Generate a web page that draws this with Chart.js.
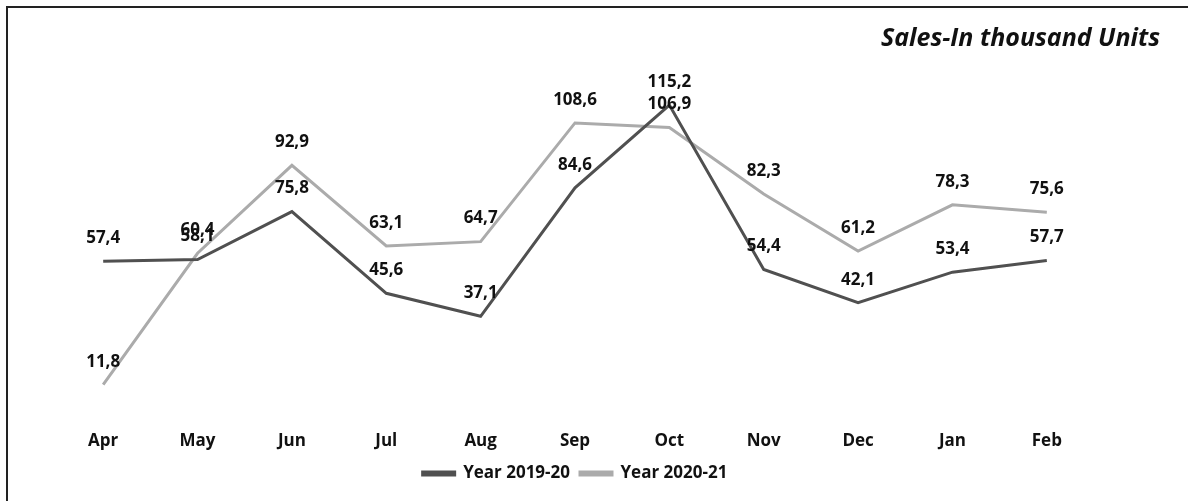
<!DOCTYPE html>
<html>
<head>
<meta charset="utf-8">
<script src="https://cdn.jsdelivr.net/npm/chart.js@4/dist/chart.umd.min.js"></script>
<style>
  html, body { margin: 0; padding: 0; background: #fff; }
  #wrap { position: relative; width: 1188px; height: 501px; overflow: hidden; }
  #frame { position: absolute; left: 6px; top: 6px; width: 1200px; height: 520px; border: 2px solid #222; box-sizing: border-box; }
  canvas { position: absolute; left: 0; top: 0; }
</style>
</head>
<body>
<div id="wrap">
  <div id="frame"></div>
  <canvas id="chart" width="1188" height="501"></canvas>
</div>
<script>
const months = ['Apr', 'May', 'Jun', 'Jul', 'Aug', 'Sep', 'Oct', 'Nov', 'Dec', 'Jan', 'Feb'];
const sales1920 = [57.4, 58.1, 75.8, 45.6, 37.1, 84.6, 115.2, 54.4, 42.1, 53.4, 57.7];
const sales2021 = [11.8, 60.4, 92.9, 63.1, 64.7, 108.6, 106.9, 82.3, 61.2, 78.3, 75.6];
const seriesNames = ['Year 2019-20', 'Year 2020-21'];
const titleText = 'Sales-In thousand Units';

const fontFamily = '"Open Sans", "Noto Sans", sans-serif';

// value labels above each point, comma decimal
const valueLabels = {
  id: 'valueLabels',
  afterDatasetsDraw(chart){
    const ctx = chart.ctx;
    ctx.save();
    ctx.font = 'bold 17px ' + fontFamily;
    ctx.fillStyle = '#111';
    ctx.textAlign = 'center';
    ctx.textBaseline = 'middle';
    chart.data.datasets.forEach((ds, i) => {
      chart.getDatasetMeta(i).data.forEach((pt, j) => {
        const txt = ds.data[j].toFixed(1).replace('.', ',');
        ctx.fillText(txt, pt.x, pt.y - 23);
      });
    });
    ctx.restore();
  }
};

const cornerTitle = {
  id: 'cornerTitle',
  afterDraw(chart){
    const ctx = chart.ctx;
    ctx.save();
    ctx.font = 'italic bold 25px ' + fontFamily;
    ctx.fillStyle = '#111';
    ctx.textAlign = 'right';
    ctx.textBaseline = 'middle';
    ctx.fillText(titleText, 1160, 39);
    ctx.restore();
  }
};

new Chart(document.getElementById('chart'), {
  type: 'line',
  data: {
    labels: months,
    datasets: [
      { label: seriesNames[0], data: sales1920, borderColor: '#505050', backgroundColor: '#505050',
        borderWidth: 3, pointRadius: 0, tension: 0 },
      { label: seriesNames[1], data: sales2021, borderColor: '#ababab', backgroundColor: '#ababab',
        borderWidth: 3, pointRadius: 0, tension: 0 }
    ]
  },
  options: {
    responsive: false,
    animation: false,
    layout: { padding: { left: 56, right: 94, top: 38, bottom: 9 } },
    scales: {
      x: {
        offset: true,
        grid: { display: false },
        border: { display: false },
        ticks: { color: '#111', font: { family: fontFamily, size: 17, weight: 'bold' }, padding: 6 },
        afterFit(scale){ scale.height -= 2; }
      },
      y: { display: false, min: 0, max: 140 }
    },
    plugins: {
      legend: {
        position: 'bottom',
        labels: {
          color: '#111',
          font: { family: fontFamily, size: 17, weight: 'bold' },
          boxWidth: 32, boxHeight: 3, padding: 10
        }
      },
      tooltip: { enabled: false }
    }
  },
  plugins: [valueLabels, cornerTitle]
});
</script>
</body>
</html>
